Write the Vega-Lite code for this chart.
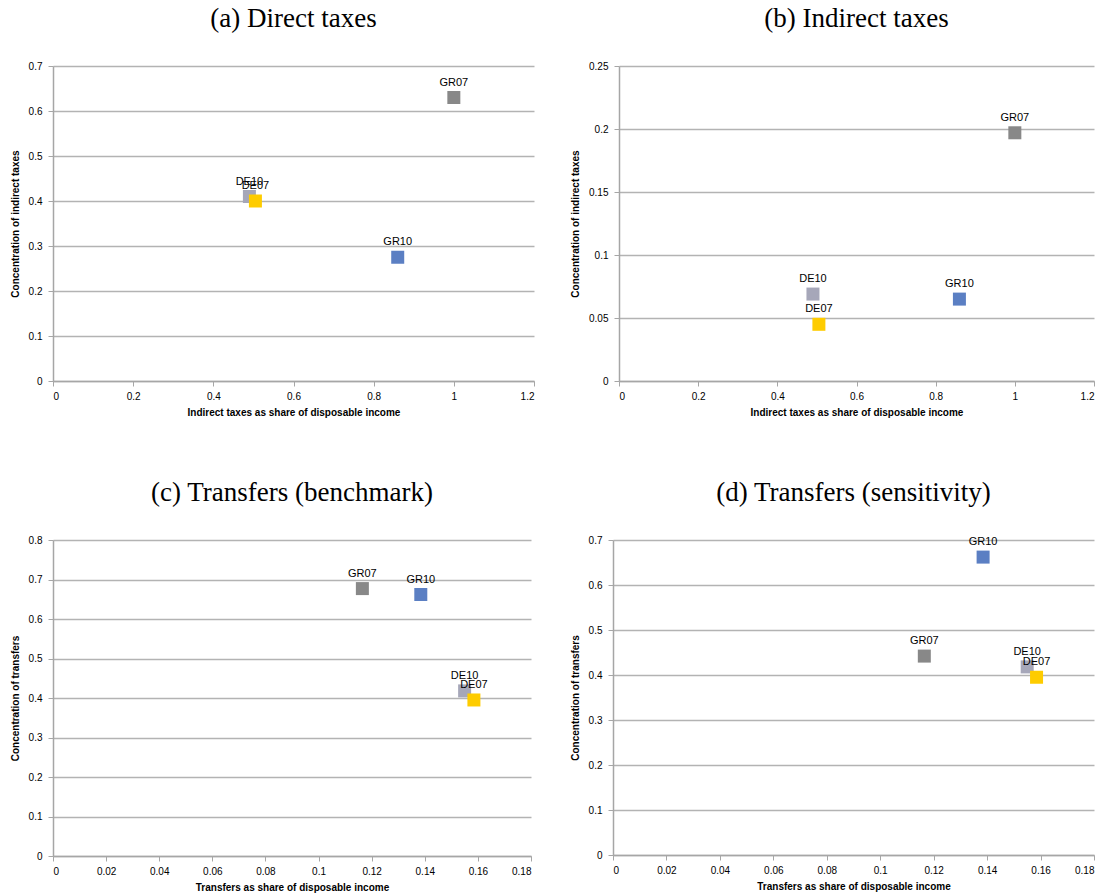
{
  "$schema": "https://vega.github.io/schema/vega-lite/v6.json",
  "background": "white",
  "padding": {"left": 10, "top": 5, "right": 5, "bottom": 5},
  "data": {"name": "pts"},
  "datasets": {
    "pts": [
      {"panel": "a", "code": "GR07", "x": 1.0, "y": 0.630},
      {"panel": "a", "code": "DE10", "x": 0.49, "y": 0.410},
      {"panel": "a", "code": "DE07", "x": 0.505, "y": 0.400},
      {"panel": "a", "code": "GR10", "x": 0.86, "y": 0.275},
      {"panel": "b", "code": "GR07", "x": 1.0, "y": 0.197},
      {"panel": "b", "code": "DE10", "x": 0.49, "y": 0.069},
      {"panel": "b", "code": "DE07", "x": 0.505, "y": 0.045},
      {"panel": "b", "code": "GR10", "x": 0.86, "y": 0.065},
      {"panel": "c", "code": "GR07", "x": 0.1165, "y": 0.677},
      {"panel": "c", "code": "GR10", "x": 0.1385, "y": 0.662},
      {"panel": "c", "code": "DE10", "x": 0.155, "y": 0.418},
      {"panel": "c", "code": "DE07", "x": 0.1585, "y": 0.395},
      {"panel": "d", "code": "GR10", "x": 0.1385, "y": 0.662},
      {"panel": "d", "code": "GR07", "x": 0.1165, "y": 0.442},
      {"panel": "d", "code": "DE10", "x": 0.155, "y": 0.418},
      {"panel": "d", "code": "DE07", "x": 0.1585, "y": 0.395}
    ]
  },
  "config": {
    "view": {"stroke": null},
    "font": "Liberation Sans",
    "title": {"font": "Liberation Serif", "fontSize": 27, "fontWeight": "normal", "color": "#000", "anchor": "middle", "offset": 28},
    "axis": {
      "labelFont": "Liberation Sans", "labelFontSize": 10, "labelColor": "#000",
      "titleFont": "Liberation Sans", "titleFontSize": 10, "titleFontWeight": "bold", "titleColor": "#000",
      "domainColor": "#a6a6a6", "domainWidth": 1.5, "tickColor": "#a6a6a6", "tickSize": 5, "tickWidth": 1,
      "gridColor": "#b3b3b3", "gridWidth": 1.5
    },
    "axisX": {"grid": false, "titlePadding": 6, "labelPadding": 5},
    "axisY": {"titlePadding": 8, "labelPadding": 6}
  },
  "concat": [
    {
      "title": "(a) Direct taxes",
      "width": 481, "height": 315,
      "transform": [{"filter": "datum.panel === 'a'"}],
      "encoding": {
        "x": {"field": "x", "type": "quantitative", "scale": {"domain": [0, 1.2], "nice": false}, "axis": {"values": [0, 0.2, 0.4, 0.6, 0.8, 1, 1.2], "format": "~g", "title": "Indirect taxes as share of disposable income"}},
        "y": {"field": "y", "type": "quantitative", "scale": {"domain": [0, 0.7], "nice": false}, "axis": {"values": [0, 0.1, 0.2, 0.3, 0.4, 0.5, 0.6, 0.7], "format": "~g", "title": "Concentration of indirect taxes"}}
      },
      "layer": [
        {"mark": {"type": "point", "shape": "square", "filled": true, "opacity": 1, "size": 169},
         "encoding": {"color": {"field": "code", "type": "nominal", "scale": {"domain": ["GR07", "DE10", "DE07", "GR10"], "range": ["#888888", "#a6a7b9", "#fecc00", "#5b7fc3"]}, "legend": null}}},
        {"mark": {"type": "text", "dy": -15, "fontSize": 11, "font": "Liberation Sans", "color": "#000"},
         "encoding": {"text": {"field": "code"}}}
      ]
    },
    {
      "title": "(b) Indirect taxes",
      "width": 475, "height": 315,
      "transform": [{"filter": "datum.panel === 'b'"}],
      "encoding": {
        "x": {"field": "x", "type": "quantitative", "scale": {"domain": [0, 1.2], "nice": false}, "axis": {"values": [0, 0.2, 0.4, 0.6, 0.8, 1, 1.2], "format": "~g", "title": "Indirect taxes as share of disposable income"}},
        "y": {"field": "y", "type": "quantitative", "scale": {"domain": [0, 0.25], "nice": false}, "axis": {"values": [0, 0.05, 0.1, 0.15, 0.2, 0.25], "format": "~g", "title": "Concentration of indirect taxes"}}
      },
      "layer": [
        {"mark": {"type": "point", "shape": "square", "filled": true, "opacity": 1, "size": 169},
         "encoding": {"color": {"field": "code", "type": "nominal", "scale": {"domain": ["GR07", "DE10", "DE07", "GR10"], "range": ["#888888", "#a6a7b9", "#fecc00", "#5b7fc3"]}, "legend": null}}},
        {"mark": {"type": "text", "dy": -15, "fontSize": 11, "font": "Liberation Sans", "color": "#000"},
         "encoding": {"text": {"field": "code"}}}
      ]
    },
    {
      "title": "(c) Transfers (benchmark)",
      "width": 478, "height": 316,
      "transform": [{"filter": "datum.panel === 'c'"}],
      "encoding": {
        "x": {"field": "x", "type": "quantitative", "scale": {"domain": [0, 0.18], "nice": false}, "axis": {"values": [0, 0.02, 0.04, 0.06, 0.08, 0.1, 0.12, 0.14, 0.16, 0.18], "format": "~g", "title": "Transfers as share of disposable income"}},
        "y": {"field": "y", "type": "quantitative", "scale": {"domain": [0, 0.8], "nice": false}, "axis": {"values": [0, 0.1, 0.2, 0.3, 0.4, 0.5, 0.6, 0.7, 0.8], "format": "~g", "title": "Concentration of transfers"}}
      },
      "layer": [
        {"mark": {"type": "point", "shape": "square", "filled": true, "opacity": 1, "size": 169},
         "encoding": {"color": {"field": "code", "type": "nominal", "scale": {"domain": ["GR07", "DE10", "DE07", "GR10"], "range": ["#888888", "#a6a7b9", "#fecc00", "#5b7fc3"]}, "legend": null}}},
        {"mark": {"type": "text", "dy": -15, "fontSize": 11, "font": "Liberation Sans", "color": "#000"},
         "encoding": {"text": {"field": "code"}}}
      ]
    },
    {
      "title": "(d) Transfers (sensitivity)",
      "width": 481, "height": 315,
      "transform": [{"filter": "datum.panel === 'd'"}],
      "encoding": {
        "x": {"field": "x", "type": "quantitative", "scale": {"domain": [0, 0.18], "nice": false}, "axis": {"values": [0, 0.02, 0.04, 0.06, 0.08, 0.1, 0.12, 0.14, 0.16, 0.18], "format": "~g", "title": "Transfers as share of disposable income"}},
        "y": {"field": "y", "type": "quantitative", "scale": {"domain": [0, 0.7], "nice": false}, "axis": {"values": [0, 0.1, 0.2, 0.3, 0.4, 0.5, 0.6, 0.7], "format": "~g", "title": "Concentration of transfers"}}
      },
      "layer": [
        {"mark": {"type": "point", "shape": "square", "filled": true, "opacity": 1, "size": 169},
         "encoding": {"color": {"field": "code", "type": "nominal", "scale": {"domain": ["GR07", "DE10", "DE07", "GR10"], "range": ["#888888", "#a6a7b9", "#fecc00", "#5b7fc3"]}, "legend": null}}},
        {"mark": {"type": "text", "dy": -15, "fontSize": 11, "font": "Liberation Sans", "color": "#000"},
         "encoding": {"text": {"field": "code"}}}
      ]
    }
  ],
  "columns": 2,
  "align": "none",
  "spacing": {"row": 62, "column": 35}
}
